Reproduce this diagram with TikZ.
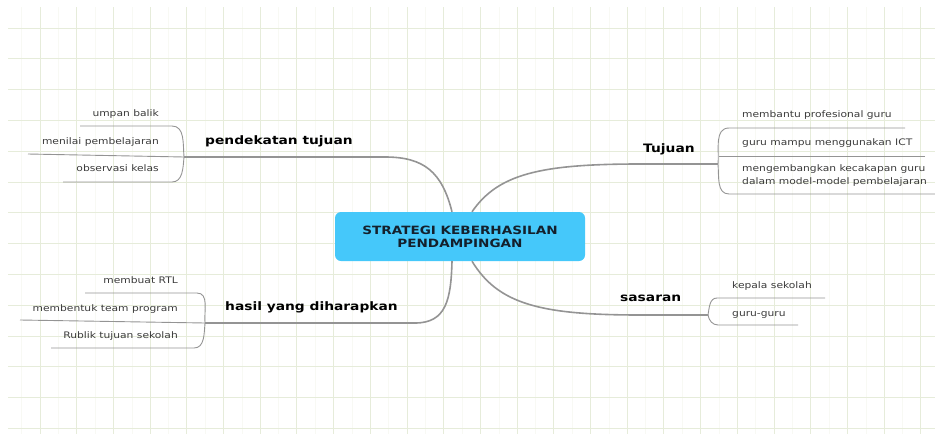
\documentclass[tikz,border=0pt]{standalone}
\usepackage{fontspec}
\setmainfont{DejaVu Sans}[FakeStretch=1.19]
\definecolor{gridc}{HTML}{E6ECDA}
\definecolor{linec}{HTML}{949494}
\definecolor{leafc}{HTML}{3A3A3A}
\definecolor{centc}{HTML}{45C8FA}
\definecolor{centt}{HTML}{14202C}
\begin{document}
\begin{tikzpicture}[x=1pt,y=-1pt,
  gridmaj/.style={draw=gridc, line width=0.9pt},
  gridmin/.style={draw=gridc!30, line width=0.6pt},
  branch/.style={draw=linec, line width=1.6pt},
  leafline/.style={draw=linec, line width=0.9pt},
  leaf/.style={font=\fontsize{9}{11}\selectfont, text=leafc, inner sep=0pt},
  topic/.style={font=\fontsize{11.6}{14}\bfseries\selectfont, text=black, inner sep=0pt},
  central/.style={draw=none, fill=centc, rounded corners=6pt, minimum width=250pt,
    minimum height=49pt, align=center, text=centt,
    font=\fontsize{11.4}{13}\bfseries\selectfont}]
\useasboundingbox (0,0) rectangle (935,434);
% grid
\foreach \i in {0,...,24} \draw[gridmin] ({21.7+36.7*\i},7) -- ({21.7+36.7*\i},434);
\foreach \i in {0,...,24} \draw[gridmaj] ({40+36.7*\i},7) -- ({40+36.7*\i},434);
\foreach \j in {0,...,13} \draw[gridmaj] (8,{28+30.8*\j}) -- (935,{28+30.8*\j});

% central node
\node[central] (c) at (460,236.5) {STRATEGI KEBERHASILAN\\PENDAMPINGAN};
\coordinate (cTL) at ([xshift=-8pt]c.north);
\coordinate (cTR) at ([xshift=12pt]c.north);
\coordinate (cBL) at ([xshift=-8pt]c.south);
\coordinate (cBR) at ([xshift=12pt]c.south);

% topics
\node[topic, anchor=mid west] (pend) at (205,142) {pendekatan tujuan};
\node[topic, anchor=mid west] (hasil) at (225,308) {hasil yang diharapkan};
\node[topic, anchor=mid west] (tuj) at (643,150) {Tujuan};
\node[topic, anchor=mid west] (sas) at (620,299) {sasaran};

% leaves left top
\node[leaf, anchor=mid east] (l1) at (159,114) {umpan balik};
\node[leaf, anchor=mid east] (l2) at (159,142) {menilai pembelajaran};
\node[leaf, anchor=mid east] (l3) at (159,169) {observasi kelas};
% leaves left bottom
\node[leaf, anchor=mid east] (h1) at (178,281) {membuat RTL};
\node[leaf, anchor=mid east] (h2) at (178,309) {membentuk team program};
\node[leaf, anchor=mid east] (h3) at (178,336) {Rublik tujuan sekolah};
% leaves right top
\node[leaf, anchor=mid west] (t1) at (742,115) {membantu profesional guru};
\node[leaf, anchor=mid west] (t2) at (742,143) {guru mampu menggunakan ICT};
\node[leaf, anchor=north west, align=left, font=\fontsize{9}{13}\selectfont] (t3) at (742,164.5)
  {mengembangkan kecakapan guru\\dalam model-model pembelajaran};
% leaves right bottom
\node[leaf, anchor=mid west] (s1) at (732,286) {kepala sekolah};
\node[leaf, anchor=mid west] (s2) at (732,314) {guru-guru};

% bracket points
\coordinate (ptA) at (184,157);
\coordinate (hsA) at (205,323);
\coordinate (tjA) at (718,164);
\coordinate (ssA) at (708,315);

% main branches
\draw[branch] (cTL) .. controls (442,172) and (424,157) .. (385,157) -- (ptA);
\draw[branch] (cBL) .. controls (451,300) and (446,323) .. (415,323) -- (hsA);
\draw[branch] (cTR) .. controls (498,174) and (540,164) .. (640,164) -- (tjA);
\draw[branch] (cBR) .. controls (498,304) and (540,315) .. (640,315) -- (ssA);

% leaf lines left top
\draw[leafline] (80,126) -- (172,126) to[out=0,in=95] (ptA) to[out=-95,in=0] (172,182) -- (63,182);
\draw[leafline] (28,154) -- (ptA);
% leaf lines left bottom
\draw[leafline] (85,293) -- (197,293) to[out=0,in=95] (hsA) to[out=-95,in=0] (194,348) -- (51,348);
\draw[leafline] (20,320) -- (hsA);
% leaf lines right top
\draw[leafline] (905,128) -- (729,128) to[out=180,in=85] (tjA) to[out=-85,in=180] (729,194) -- (935,194);
\draw[leafline] (925,156) -- (719,156);
% leaf lines right bottom
\draw[leafline] (825,298) -- (717,298) to[out=180,in=80] (ssA) to[out=-80,in=180] (718,325) -- (798,325);
\end{tikzpicture}
\end{document}
